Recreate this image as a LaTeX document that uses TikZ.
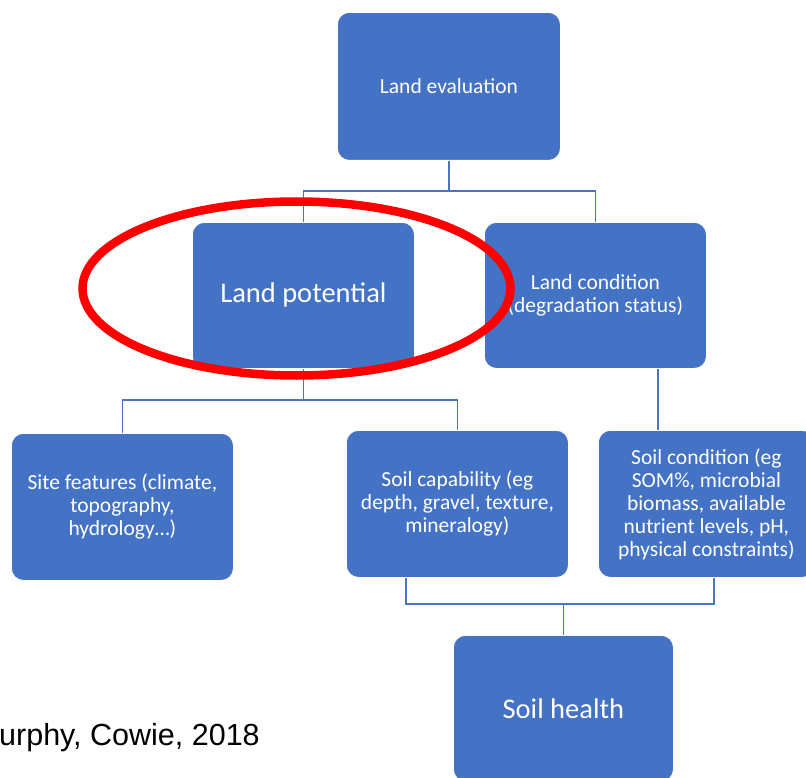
\documentclass[tikz,border=0pt]{standalone}
\usepackage{fontspec}
\setmainfont{Carlito}
\newfontfamily\arialfont{Liberation Sans}
\definecolor{boxblue}{HTML}{4472C4}
\definecolor{lineblue}{HTML}{4A74C0}
\tikzset{
  bluebox/.style={rectangle, rounded corners=12pt, fill=boxblue, draw=white, line width=0.8pt,
    text=white, align=center, anchor=north west, inner sep=0pt,
    font=\fontsize{21.5}{23}\selectfont},
  bigtext/.style={font=\fontsize{28.5}{32}\selectfont},
  conn/.style={draw=lineblue, line width=1.4pt},
  redring/.style={draw=red, line width=8.5pt}
}
\begin{document}
\begin{tikzpicture}[x=1pt,y=-1pt]
\useasboundingbox (0,0) rectangle (806,778);
\fill[white] (0,0) rectangle (806,778);

\node[bluebox, minimum width=223pt, minimum height=148pt] (le) at (337,12) {Land evaluation};
\node[bluebox, bigtext, minimum width=222pt, minimum height=146pt] (lp) at (192,222) {Land potential};
\node[bluebox, minimum width=222pt, minimum height=146pt] (lc) at (484,222) {Land condition\\(degradation status)};
\node[bluebox, minimum width=222pt, minimum height=147pt] (sf) at (11,433) {Site features (climate,\\topography,\\hydrology…)};
\node[bluebox, minimum width=222pt, minimum height=147pt] (sc) at (346,430) {Soil capability (eg\\depth, gravel, texture,\\mineralogy)};
\node[bluebox, minimum width=216pt, minimum height=147pt] (so) at (598,430) {Soil condition (eg\\SOM\%, microbial\\biomass, available\\nutrient levels, pH,\\physical constraints)};
\node[bluebox, bigtext, minimum width=220pt, minimum height=146pt] (sh) at (453,635) {Soil health};

\node[anchor=base west, inner sep=0pt, font=\arialfont\fontsize{30.5}{33}\selectfont] (ref) at (-1,745) {urphy, Cowie, 2018};

% connectors
\coordinate (j1) at (449,191);
\draw[conn] (le.south) -- (le.south |- j1);
\draw[conn] (lp.north) -- (lp.north |- j1) -- (lc.north |- j1) -- (lc.north);

\coordinate (j2) at (0,400);
\draw[conn] (lp.south) -- (lp.south |- j2);
\draw[conn] (sf.north) -- (sf.north |- j2) -- (sc.north |- j2) -- (sc.north);

\coordinate (j3) at (658,0);
\draw[conn] (lc.south -| j3) -- (so.north -| j3);

\coordinate (j4) at (406,604);
\coordinate (j5) at (714,604);
\draw[conn] (sc.south -| j4) -- (j4) -- (j5) -- (so.south -| j5);
\draw[conn] (sh.north) -- (sh.north |- j4);

% red ring
\draw[redring] (296.5,288.5) ellipse [x radius=214, y radius=87];
\end{tikzpicture}
\end{document}
